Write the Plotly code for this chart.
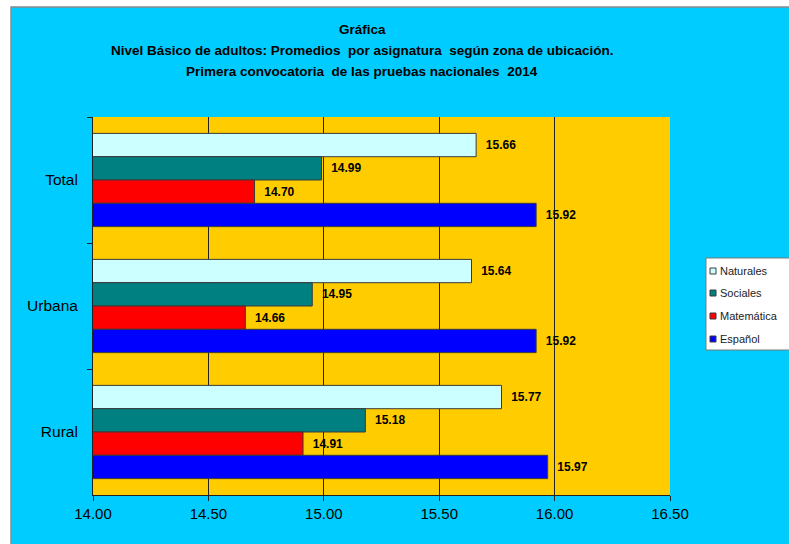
import plotly.graph_objects as go

# Zones (top to bottom) and subject averages
zonas = ["Total", "Urbana", "Rural"]
asignaturas = ["Naturales", "Sociales", "Matemática", "Español"]
naturales = [15.66, 15.64, 15.77]
sociales = [14.99, 14.95, 15.18]
matematica = [14.70, 14.66, 14.91]
espanol = [15.92, 15.92, 15.97]
x_ticks = [14.0, 14.5, 15.0, 15.5, 16.0, 16.5]

series = [naturales, sociales, matematica, espanol]
colores = ["#CCFFFF", "#008080", "#FF0000", "#0000FF"]

W, H = 789, 544
L, R, T, B = 93, 119, 117, 49
PW, PH = W - L - R, H - T - B


def px_x(p):
    return (p - L) / PW


def px_y(p):
    return (H - B - p) / PH


FONT = "Arial, Liberation Sans, sans-serif"
BORDE = "#3a3a3a"

fig = go.Figure()

for nombre, vals, col in zip(asignaturas, series, colores):
    fig.add_trace(go.Bar(
        y=zonas, x=vals, orientation="h", name=nombre,
        marker=dict(color=col, line=dict(color=BORDE, width=1)),
        texttemplate="\u00a0\u00a0<b>%{x:.2f}</b>", textposition="outside",
        textfont=dict(family=FONT, size=12, color="#000000"),
        cliponaxis=False, constraintext="none", showlegend=False,
    ))

titulo = [
    "<b>Gráfica</b>",
    "<b>Nivel Básico de adultos: Promedios  por asignatura  según zona de ubicación.</b>",
    "<b>Primera convocatoria  de las pruebas nacionales  2014</b>",
]
for linea, py in zip(titulo, [30, 50, 71]):
    fig.add_annotation(text=linea, xref="paper", yref="paper",
                       x=px_x(362), y=px_y(py), xanchor="center", yanchor="middle",
                       showarrow=False, font=dict(family=FONT, size=13.5, color="#000000"))

# legend box with small square keys
fig.add_shape(type="rect", xref="paper", yref="paper",
              x0=px_x(706), x1=px_x(W + 20), y0=px_y(350), y1=px_y(258),
              fillcolor="white", line=dict(color="#7a7a7a", width=1), layer="above")
for nombre, col, py in zip(asignaturas, colores, [271, 293, 316, 339]):
    fig.add_shape(type="rect", xref="paper", yref="paper",
                  x0=px_x(710), x1=px_x(716), y0=px_y(py + 3), y1=px_y(py - 3),
                  fillcolor=col, line=dict(color=BORDE, width=1), layer="above")
    fig.add_annotation(text=nombre, xref="paper", yref="paper",
                       x=px_x(718), y=px_y(py), xanchor="left", yanchor="middle",
                       showarrow=False, font=dict(family=FONT, size=11, color="#222222"))

# white outer margin and chart-area border
fig.add_shape(type="rect", xref="paper", yref="paper",
              x0=px_x(-5), x1=px_x(11), y0=px_y(H + 5), y1=px_y(-5),
              fillcolor="white", line_width=0, layer="above")
fig.add_shape(type="rect", xref="paper", yref="paper",
              x0=px_x(-5), x1=px_x(W + 5), y0=px_y(7), y1=px_y(-5),
              fillcolor="white", line_width=0, layer="above")
fig.add_shape(type="path", xref="paper", yref="paper",
              path=f"M {px_x(11)} {px_y(H + 5)} L {px_x(11)} {px_y(7)} L {px_x(W + 5)} {px_y(7)}",
              line=dict(color="#8a8a8a", width=1.5), layer="above")

fig.update_layout(
    width=W, height=H,
    margin=dict(l=L, r=R, t=T, b=B, autoexpand=False),
    paper_bgcolor="#00CCFF", plot_bgcolor="#FFCC00",
    barmode="group", bargap=0.26, bargroupgap=0,
    font=dict(family=FONT, color="#000000"),
    showlegend=False,
    xaxis=dict(
        range=[14, 16.5], tickvals=x_ticks, tickformat=".2f",
        showgrid=True, gridcolor="#222222", gridwidth=1,
        showline=True, linecolor="#222222", linewidth=1,
        ticks="outside", ticklen=5, tickcolor="#222222",
        tickfont=dict(family=FONT, size=15, color="#000000"),
        zeroline=False, fixedrange=True,
    ),
    yaxis=dict(
        autorange="reversed", categoryorder="array", categoryarray=zonas,
        showline=True, linecolor="#222222", linewidth=1,
        ticks="outside", ticklen=5, tickcolor="#222222", tickson="boundaries",
        tickfont=dict(family=FONT, size=15.5, color="#000000"),
        ticklabelstandoff=11, showgrid=False,
    ),
)

fig.write_html("out.html")
